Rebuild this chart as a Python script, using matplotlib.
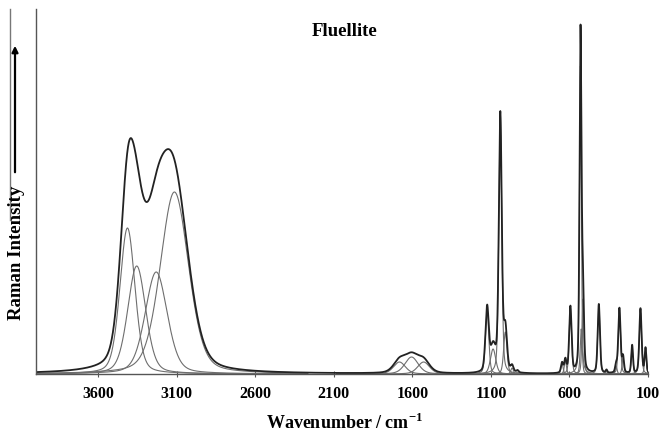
import numpy as np
import matplotlib
matplotlib.use("Agg")
import matplotlib.pyplot as plt
from matplotlib.lines import Line2D

# component bands: position (cm-1), height, FWHM
oh_pos = [3413, 3354, 3230, 3114]
oh_hgt = [146, 108, 102, 182]
oh_wid = [113, 135, 165, 212]

bend_pos = [1682, 1605, 1528]
bend_hgt = [12, 17, 12]
bend_wid = [90, 100, 90]

po4_pos = [1124, 1086, 1040, 1008, 965, 930]
po4_hgt = [64, 25, 258, 42, 6, 2]
po4_wid = [25, 40, 22, 25, 20, 15]

low_pos = [647, 626, 594, 530, 525, 514, 413, 364, 303, 282, 259, 201, 148, 116]
low_hgt = [10, 13, 66, 308, 45, 75, 69, 3, 8, 65, 16, 28, 65, 25]
low_wid = [16, 16, 18, 14, 15, 15, 17, 12, 14, 17, 14, 13, 17, 13]

group_eta = [0.3, 0.35, 0.35, 0.35]

xticks = [3600, 3100, 2600, 2100, 1600, 1100, 600, 100]


def band(x, c, h, w, eta):
    g = np.exp(-4 * np.log(2) * ((x - c) / w) ** 2)
    l = 1.0 / (1 + (2 * (x - c) / w) ** 2)
    return h * ((1 - eta) * g + eta * l)


plt.rcParams['font.family'] = ['Liberation Serif', 'DejaVu Serif']
plt.rcParams['mathtext.fontset'] = 'custom'
plt.rcParams['mathtext.rm'] = 'Liberation Serif'
plt.rcParams['mathtext.bf'] = 'Liberation Serif:bold'
fig = plt.figure(figsize=(6.62, 4.34), dpi=100)
W, H = 662, 434
ax = fig.add_axes([36 / W, (H - 374) / H, (648 - 36) / W, (374 - 9) / H])

x = np.linspace(4000, 90, 12000)
groups = [(oh_pos, oh_hgt, oh_wid), (bend_pos, bend_hgt, bend_wid),
          (po4_pos, po4_hgt, po4_wid), (low_pos, low_hgt, low_wid)]
total = np.zeros_like(x)
for (pos, hgt, wid), eta in zip(groups, group_eta):
    lo, hi = min(pos) - 4 * max(wid), max(pos) + 4 * max(wid)
    m = (x > lo) & (x < hi)
    for c, h, w in zip(pos, hgt, wid):
        y = band(x, c, h, w, eta)
        total += y
        ax.plot(x[m], y[m], color='#6e6e6e', lw=0.8)
ax.plot(x, total, color='#222222', lw=1.3)

ax.set_xlim(3995, 100)
ax.set_ylim(0, 365)
ax.set_xticks(xticks)
ax.set_xticklabels([str(t) for t in xticks], fontweight='bold', fontsize=11.5)
ax.set_yticks([])
for s in ['top', 'right']:
    ax.spines[s].set_visible(False)
for s in ['left', 'bottom']:
    ax.spines[s].set_color('#555555')
    ax.spines[s].set_linewidth(1.0)
ax.tick_params(axis='x', direction='inout', length=5, width=0.8, color='#555555', pad=6)

fig.text(345 / W, 1 - 31 / H, 'Fluellite', ha='center', va='center',
         fontsize=13.5, fontweight='bold')
fig.text(345 / W, 1 - 423 / H, r'Wavenumber / cm$^{\mathbf{-1}}$', ha='center', va='center',
         fontsize=13, fontweight='bold')
fig.text(17 / W, 1 - 253 / H, 'Raman Intensity', ha='center', va='center',
         rotation=90, fontsize=13.5, fontweight='bold')

# arrow along y label
fig.patches.append(matplotlib.patches.FancyArrowPatch(
    (15 / W, 1 - 175 / H), (15 / W, 1 - 43 / H), transform=fig.transFigure,
    arrowstyle='-|>', mutation_scale=9, color='black', lw=1.6))
# thin border line at far left
fig.lines.append(Line2D([10 / W, 10 / W], [1 - 9 / H, 1 - 220 / H],
                        transform=fig.transFigure, color='#777777', lw=1.0))

fig.savefig('out.png', dpi=100)
